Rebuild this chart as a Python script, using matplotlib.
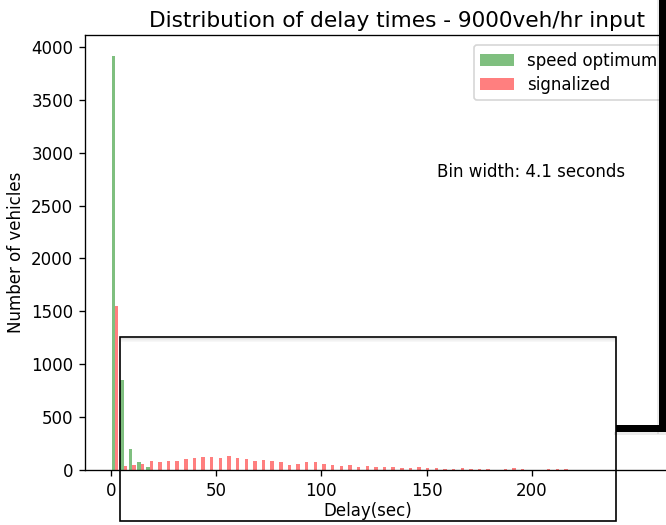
import numpy as np
from matplotlib import pyplot as plt
from matplotlib.patches import Rectangle

# histogram counts (bin width 4.1 s, bins starting at 0)
bin_width = 4.1
speed_optimum = [3910, 850, 200, 80, 28]
signalized = [1550, 40, 50, 60, 85, 73, 85, 85, 100, 117,
              123, 126, 117, 135, 117, 107, 85, 98, 85, 76,
              44, 60, 73, 73, 60, 50, 35, 47, 32, 35,
              28, 28, 28, 22, 22, 28, 22, 16, 13, 13,
              16, 13, 13, 13, 0, 13, 16, 13, 0, 0,
              10, 10, 10]
series_labels = ['speed optimum', 'signalized']
x_ticks = [0, 50, 100, 150, 200]

W, H = 666, 525
DPI = 120


def fig_box(x0, y0, x1, y1):
    # pixel box (top-left origin) -> figure fraction rectangle
    return (x0 / W, 1 - y1 / H), (x1 - x0) / W, (y1 - y0) / H


n_bins = len(signalized)
edges = bin_width * np.arange(n_bins + 1)
centers = edges[:-1] + bin_width / 2
green = np.zeros(n_bins)
green[:len(speed_optimum)] = speed_optimum

fig = plt.figure(figsize=(W / DPI, H / DPI), dpi=DPI)
ax = fig.add_axes([85 / W, 55 / H, 624 / W, 435 / H])

ax.hist([centers, centers], bins=edges, weights=[green, signalized],
        color=['green', 'red'], alpha=0.5, label=series_labels)
ax.set_xlim(-12.2, 284)
ax.set_ylim(0, 4113)
ax.set_xticks(x_ticks)
ax.set_title("Distribution of delay times - 9000veh/hr input", fontsize=13, pad=5)
ax.set_xlabel("Delay(sec)")
ax.xaxis.set_label_coords((368 - 85) / 624, -(502 - 470) / 435)
ax.set_ylabel("Number of vehicles")
ax.text(155, 2820, "Bin width: 4.1 seconds", va='center')
ax.legend(loc='upper left', bbox_to_anchor=(0.623, 0.977), borderaxespad=0,
          labelspacing=0.35)

# overlapping window frame (screenshot artefact)
xy, w, h = fig_box(120, 337, 616, 521)
fig.add_artist(Rectangle(xy, w, h, transform=fig.transFigure, fill=False,
                         edgecolor='black', lw=1.0, zorder=10))
for i, a in enumerate([0.12, 0.08, 0.05, 0.03]):
    xy, w, h = fig_box(121, 338 + i, 615, 339 + i)
    fig.add_artist(Rectangle(xy, w, h, transform=fig.transFigure, lw=0,
                             facecolor='black', alpha=a, zorder=9))

# thick black border on the right
for box in [(657, 0, 659, 434), (614, 432, 666, 435)]:
    xy, w, h = fig_box(*box)
    fig.add_artist(Rectangle(xy, w, h, transform=fig.transFigure, lw=0,
                             facecolor='black', alpha=0.08, zorder=11))
for box in [(659, 0, 666, 432), (616, 425, 666, 432)]:
    xy, w, h = fig_box(*box)
    fig.add_artist(Rectangle(xy, w, h, transform=fig.transFigure, lw=0,
                             facecolor='black', zorder=12))

plt.savefig("out.png", dpi=DPI)
plt.close()
